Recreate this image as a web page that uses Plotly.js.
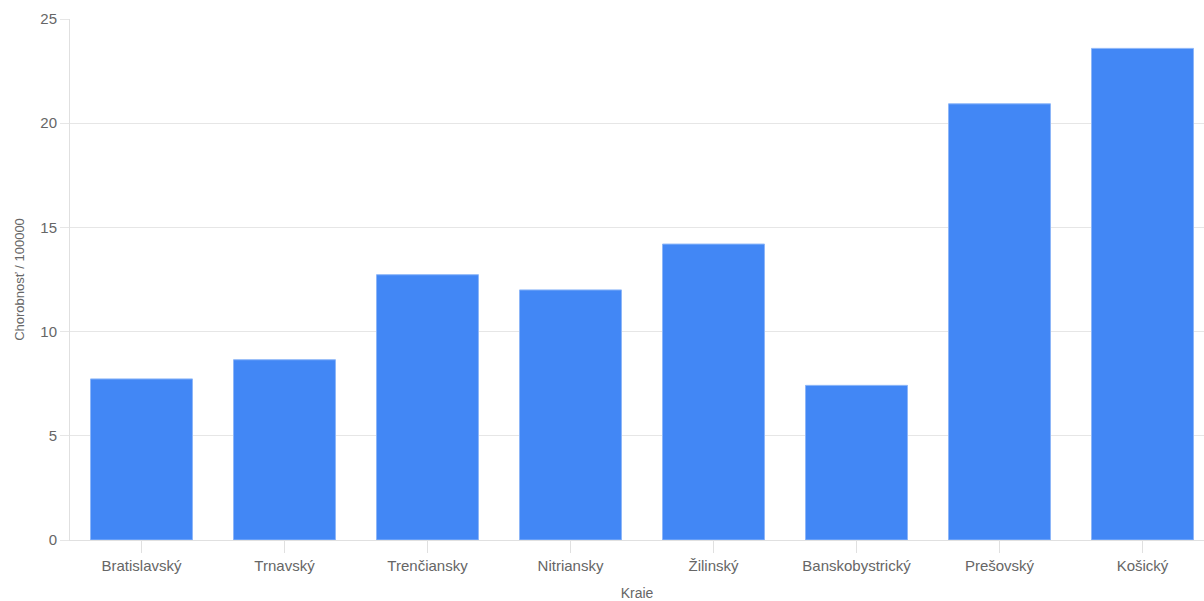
<!DOCTYPE html>
<html>
<head>
<meta charset="utf-8">
<script src="https://cdn.plot.ly/plotly-3.0.1.min.js"></script>
<style>html,body{margin:0;padding:0;background:#fff;}#chart{width:1204px;height:601px;}</style>
</head>
<body>
<div id="chart"></div>
<script>
const categories = ["Bratislavský", "Trnavský", "Trenčiansky", "Nitriansky", "Žilinský", "Banskobystrický", "Prešovský", "Košický"];
const values = [7.73, 8.65, 12.73, 12.0, 14.2, 7.42, 20.93, 23.59];
const yTicks = [0, 5, 10, 15, 20, 25];
const xTitle = "Kraie";
const yTitle = "Chorobnosť / 100000";

const trace = {
  type: "bar",
  x: categories,
  y: values,
  marker: { color: "#4287f5", line: { color: "#8db6f8", width: 1 } },
  hoverinfo: "x+y"
};

const layout = {
  width: 1204,
  height: 601,
  margin: { l: 70, r: 0, t: 19, b: 61 },
  paper_bgcolor: "#ffffff",
  plot_bgcolor: "#ffffff",
  bargap: 0.287,
  showlegend: false,
  font: { family: "Liberation Sans, Arial, sans-serif", size: 14, color: "#666666" },
  xaxis: {
    type: "category",
    range: [-0.5, 7.43],
    showgrid: false,
    showline: true,
    linecolor: "#e0e0e0",
    linewidth: 1,
    ticks: "outside",
    ticklen: 12,
    tickcolor: "#e0e0e0",
    tickfont: { size: 15, color: "#666666" },
    title: { text: xTitle, font: { size: 14, color: "#666666" }, standoff: 16 },
    zeroline: false
  },
  yaxis: {
    range: [0, 25],
    tickvals: yTicks,
    ticktext: yTicks.map(String),
    showgrid: true,
    gridcolor: "#e6e6e6",
    showline: true,
    linecolor: "#e0e0e0",
    ticks: "outside",
    ticklen: 9,
    tickcolor: "#e6e6e6",
    tickfont: { size: 15, color: "#666666" },
    title: { text: yTitle, font: { size: 13, color: "#666666" }, standoff: 12 },
    zeroline: false
  }
};

Plotly.newPlot("chart", [trace], layout, { displayModeBar: false, staticPlot: true });
</script>
</body>
</html>
